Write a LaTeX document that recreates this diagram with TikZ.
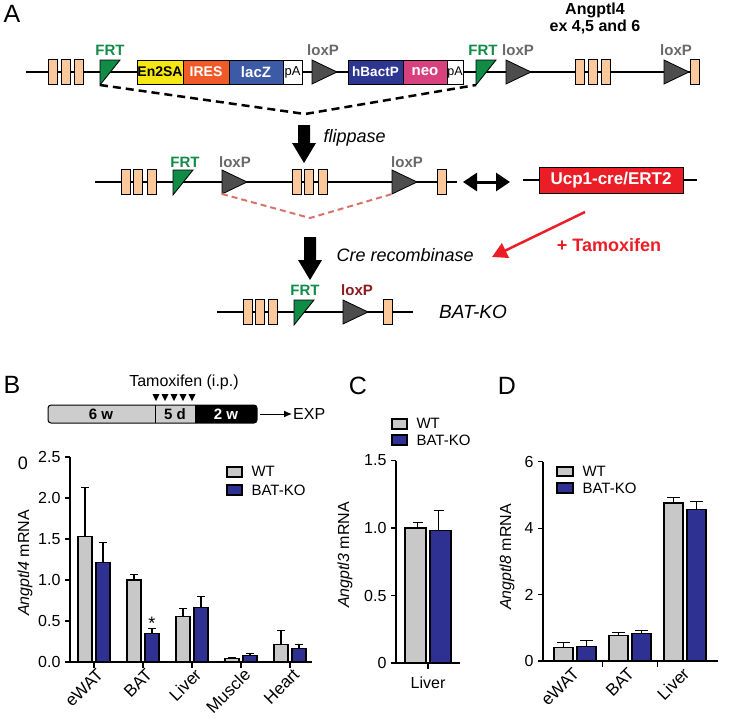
\documentclass[tikz,border=0pt]{standalone}
\usepackage{fontspec}
\setmainfont{Liberation Sans}
\usetikzlibrary{arrows.meta}
\tikzset{>=latex}
\tikzset{every text node part/.style={align=center}}

\definecolor{exoncol}{RGB}{250,200,155}
\definecolor{frtgreen}{RGB}{16,140,70}
\definecolor{loxgray}{RGB}{77,77,77}
\definecolor{loxtext}{RGB}{105,105,105}
\definecolor{loxred}{RGB}{140,25,30}
\definecolor{ensacol}{RGB}{245,230,20}
\definecolor{irescol}{RGB}{240,90,40}
\definecolor{laczcol}{RGB}{60,90,165}
\definecolor{hbactcol}{RGB}{45,55,145}
\definecolor{neocol}{RGB}{215,65,125}
\definecolor{ucpred}{RGB}{235,30,40}
\definecolor{credash}{RGB}{215,115,105}
\definecolor{wtgray}{RGB}{200,200,200}
\definecolor{koblue}{RGB}{46,49,146}
\definecolor{tlgray}{RGB}{205,205,205}

\newcommand{\fsz}[1]{\fontsize{#1}{#1}\selectfont}

\tikzset{
	dna/.style={line width=2pt},
	exonbox/.style={draw, line width=0.8pt, fill=exoncol},
	frtbox/.style={draw, line width=0.8pt, fill=frtgreen},
	loxbox/.style={draw, line width=0.8pt, fill=loxgray},
	cassette/.style={draw, line width=0.8pt, inner sep=0pt, minimum height=24pt, font=\fsz{14}\bfseries, text=white},
	frtlabel/.style={font=\fsz{15}\bfseries, text=frtgreen},
	loxlabel/.style={font=\fsz{15}\bfseries, text=loxtext},
	steplabel/.style={font=\fsz{18}\itshape},
	panel/.style={font=\fsz{25}},
	axis/.style={line width=1.3pt},
	wtbar/.style={draw, line width=1.1pt, fill=wtgray},
	kobar/.style={draw, line width=1.1pt, fill=koblue},
	errbar/.style={line width=1.1pt},
	ticklab/.style={font=\fsz{16}, anchor=east},
	xlab/.style={font=\fsz{17}, rotate=45, anchor=east, inner sep=1pt},
	legbox/.style={draw, line width=1.1pt},
	legtext/.style={font=\fsz{15}, anchor=west}
}

% small construct parts
\newcommand{\exon}[2]{\draw[exonbox] (#1,#2-12.5) rectangle ++(9,25);}
\newcommand{\frt}[3]{\draw[frtbox] (#2,#3-12) coordinate (#1) -- ++(20,0) -- (#2,#3+13) coordinate (#1b) -- cycle;}
\newcommand{\loxp}[3]{\draw[loxbox] (#2,#3-12) coordinate (#1) -- (#2+25,#3) -- (#2,#3+12) coordinate (#1b) -- cycle;}
\newcommand{\bigarrow}[3]{\fill (#1-6,#2) -- (#1+6,#2) -- (#1+6,#3-20) -- (#1+12,#3-20) -- (#1,#3) -- (#1-12,#3-20) -- (#1-6,#3-20) -- cycle;}

\begin{document}
\begin{tikzpicture}[x=1pt, y=-1pt]
	\useasboundingbox (0,0) rectangle (731,718);
	
	% Panel letters
	\node[panel] (labA) at (12,14) {A};
	\node[panel] (labB) at (12,385) {B};
	\node[panel] (labC) at (358,386) {C};
	\node[panel] (labD) at (507,386) {D};
	
	% Targeted allele
	\draw[dna] (26,72) -- (695,72);
	\exon{48}{72} \exon{61}{72} \exon{74}{72}
	\frt{frtA}{100}{72}
	\node[frtlabel] (frtlabA) at (110,50) {FRT};
	\node[cassette, fill=ensacol, text=black, minimum width=46pt] (ensa) at (160,72) {En2SA};
	\node[cassette, fill=irescol, minimum width=46pt] (ires) at (206,72) {IRES};
	\node[cassette, fill=laczcol, minimum width=54pt, font=\fsz{15}\bfseries] (lacz) at (256,72) {lacZ};
	\node[cassette, fill=white, text=black, minimum width=19pt, font=\fsz{13}] (pa1) at (292.5,72) {pA};
	\loxp{loxA}{312}{72}
	\node[loxlabel] (loxlabA) at (323,50) {loxP};
	\node[cassette, fill=hbactcol, minimum width=55pt, font=\fsz{13.5}\bfseries] (hbact) at (375.5,72) {hBactP};
	\node[cassette, fill=neocol, minimum width=44pt, font=\fsz{15}\bfseries] (neo) at (425,72) {neo};
	\node[cassette, fill=white, text=black, minimum width=16pt, font=\fsz{12.5}] (pa2) at (455,72) {pA};
	\frt{frtB}{476}{72}
	\node[frtlabel] (frtlabB) at (483,50) {FRT};
	\loxp{loxB}{506}{72}
	\node[loxlabel] (loxlabB) at (518,50) {loxP};
	\exon{575}{72} \exon{588}{72} \exon{601}{72}
	\loxp{loxC}{664}{72}
	\node[loxlabel] (loxlabC) at (676,50) {loxP};
	\exon{690}{72}
	\node[font=\fsz{16}\bfseries] (exlab) at (595,18) {Angptl4\\[1pt]ex 4,5 and 6};
	
	% Flippase step
	\draw[line width=2.5pt, dash pattern=on 8pt off 5pt] (frtAb) -- (305,114) -- (frtBb);
	\bigarrow{304}{125}{163}
	\node[steplabel, anchor=west] (flip) at (320,138) {flippase};
	
	% Floxed allele
	\draw[dna] (95,182) -- (457,182);
	\exon{121}{182} \exon{133}{182} \exon{147}{182}
	\frt{frtC}{173}{182}
	\node[frtlabel] (frtlabC) at (185,162) {FRT};
	\loxp{loxD}{222}{182}
	\node[loxlabel] (loxlabD) at (235,162) {loxP};
	\exon{292}{182} \exon{304}{182} \exon{318}{182}
	\loxp{loxE}{392}{182}
	\node[loxlabel] (loxlabE) at (407,162) {loxP};
	\exon{437}{182}
	\draw[line width=2pt, credash, dash pattern=on 6pt off 4pt] (loxDb) -- (310,218) -- (loxEb);
	
	% Cre driver
	\coordinate (dblL) at (463,182);
	\coordinate (dblR) at (510,182);
	\draw[line width=3pt, {Triangle[length=14pt,width=18pt]}-{Triangle[length=14pt,width=18pt]}] (dblL) -- (dblR);
	\draw[dna] (523,180) -- (697,180);
	\node[draw, line width=0.8pt, fill=ucpred, minimum width=144pt, minimum height=26pt, inner sep=0pt, font=\fsz{17}\bfseries, text=white] (ucp) at (611,180) {Ucp1-cre/ERT2};
	\coordinate (tamA) at (585,212);
	\coordinate (tamB) at (492,257);
	\draw[line width=2.5pt, ucpred, -{Triangle[length=15pt,width=16pt]}] (tamA) -- (tamB);
	\node[font=\fsz{18}\bfseries, text=ucpred] (tam) at (609,245) {+ Tamoxifen};
	
	% Cre step
	\bigarrow{310}{237}{280}
	\node[steplabel, anchor=west] (cre) at (333,255) {Cre recombinase};
	
	% Deleted allele
	\draw[dna] (217,312) -- (413,312);
	\exon{243}{312} \exon{255}{312} \exon{268}{312}
	\frt{frtD}{294}{312}
	\node[frtlabel] (frtlabD) at (305,290) {FRT};
	\loxp{loxF}{343}{312}
	\node[loxlabel, text=loxred] (loxlabF) at (357,290) {loxP};
	\exon{383}{312}
	\node[font=\fsz{19}\itshape] (batko) at (473,312) {BAT-KO};
	
	% Timeline
	\node[font=\fsz{16}] (tamip) at (184,382) {Tamoxifen (i.p.)};
	\foreach \tx in {156,165,...,192}
		\fill (\tx-3.5,394) -- (\tx+3.5,394) -- (\tx,401) -- cycle;
	\begin{scope}
		\clip[rounded corners=3pt] (48,405) rectangle (257,423);
		\fill[tlgray] (48,405) rectangle (195,423);
		\fill[black] (195,405) rectangle (257,423);
	\end{scope}
	\draw[line width=1pt] (155,405) -- (155,423);
	\draw[line width=1pt, rounded corners=3pt] (48,405) rectangle (257,423);
	\node[font=\fsz{15}\bfseries] (sixw) at (101,414) {6 w};
	\node[font=\fsz{15}\bfseries] (fived) at (175,414) {5 d};
	\node[font=\fsz{15}\bfseries, text=white] (twow) at (226,414) {2 w};
	\coordinate (tlend) at (260,414);
	\node[font=\fsz{16}, anchor=west, inner sep=1pt] (exp) at (292,414) {EXP};
	\draw[line width=1pt, -{Latex[length=8pt,width=7pt]}] (tlend) -- (exp.west);
	
	% Panel B chart
	\node[font=\fsz{18}] (zero) at (23,463) {0};
	\node[font=\fsz{16}, rotate=90] (ylabB) at (25,563) {\textit{Angptl4} mRNA};
	\begin{scope}[shift={(70,662)}, y=82pt]
		\foreach \gx/\w/\we/\k/\ke/\lab in {24/1.53/2.13/1.21/1.46/eWAT, 73/1.00/1.07/0.35/0.41/BAT, 122/0.55/0.65/0.66/0.80/Liver, 171/0.04/0.05/0.08/0.10/Muscle, 220/0.21/0.38/0.16/0.21/Heart}
		{
			\draw[errbar] (\gx-9,\w) -- (\gx-9,\we) (\gx-13,\we) -- (\gx-5,\we);
			\draw[wtbar] (\gx-16,0) rectangle (\gx-2,\w);
			\draw[errbar] (\gx+9,\k) -- (\gx+9,\ke) (\gx+5,\ke) -- (\gx+13,\ke);
			\draw[kobar] (\gx+2,0) rectangle (\gx+16,\k);
			\draw[axis] (\gx,0) -- ++(0pt,-6pt);
			\node[xlab] at ([xshift=7pt, yshift=-9pt]\gx,0) {\lab};
		}
		\foreach \v/\l in {0/0.0, 0.5/0.5, 1/1.0, 1.5/1.5, 2/2.0, 2.5/2.5}
		{
			\draw[axis] (-5,\v) -- (0,\v);
			\node[ticklab] at (-6,\v) {\l};
		}
		\draw[axis] (0,2.5) -- (0,0) -- (242,0);
		\node[font=\fsz{18}] (star) at (82,0.47) {*};
	\end{scope}
	\draw[legbox, fill=wtgray] (227,467) rectangle (242,477);
	\draw[legbox, fill=koblue] (227,485) rectangle (242,495);
	\node[legtext] (legwtB) at (248,471) {WT};
	\node[legtext] (legkoB) at (248,490) {BAT-KO};
	
	% Panel C chart
	\node[font=\fsz{16}, rotate=90] (ylabC) at (345,555) {\textit{Angptl3} mRNA};
	\begin{scope}[shift={(396,663)}, y=135pt]
		\draw[errbar] (21.5,1.00) -- (21.5,1.04) (16.5,1.04) -- (26.5,1.04);
		\draw[wtbar] (9,0) rectangle (30,1.00);
		\draw[errbar] (42.5,0.98) -- (42.5,1.13) (37.5,1.13) -- (47.5,1.13);
		\draw[kobar] (34,0) rectangle (55,0.98);
		\draw[axis] (32,0) -- ++(0pt,-6pt);
		\foreach \v/\l in {0/0, 0.5/0.5, 1/1.0, 1.5/1.5}
		{
			\draw[axis] (-5,\v) -- (0,\v);
			\node[ticklab] at (-6,\v) {\l};
		}
		\draw[axis] (0,1.5) -- (0,0) -- (64,0);
	\end{scope}
	\node[font=\fsz{16}] (liverC) at (428,683) {Liver};
	\draw[legbox, fill=wtgray] (392,419) rectangle (407,429);
	\draw[legbox, fill=koblue] (392,435) rectangle (407,445);
	\node[legtext] (legwtC) at (413,423) {WT};
	\node[legtext] (legkoC) at (413,440) {BAT-KO};
	
	% Panel D chart
	\node[font=\fsz{16}, rotate=90] (ylabD) at (507,557) {\textit{Angptl8} mRNA};
	\begin{scope}[shift={(543,661)}, y=33.2pt]
		\foreach \gx/\w/\we/\k/\ke/\lab in {32/0.40/0.55/0.45/0.62/eWAT, 87/0.78/0.87/0.83/0.92/BAT, 142/4.76/4.93/4.57/4.80/Liver}
		{
			\draw[errbar] (\gx-11.5,\w) -- (\gx-11.5,\we) (\gx-18,\we) -- (\gx-5,\we);
			\draw[wtbar] (\gx-21,0) rectangle (\gx-2,\w);
			\draw[errbar] (\gx+11.5,\k) -- (\gx+11.5,\ke) (\gx+5,\ke) -- (\gx+18,\ke);
			\draw[kobar] (\gx+2,0) rectangle (\gx+21,\k);
			\node[xlab] at ([xshift=2pt, yshift=-9pt]\gx,0) {\lab};
		}
		\foreach \tx in {59.5,114.5}
			\draw[axis] (\tx,0) -- ++(0pt,-6pt);
		\foreach \v in {0,2,4,6}
		{
			\draw[axis] (-5,\v) -- (0,\v);
			\node[ticklab] at (-6,\v) {\v};
		}
		\draw[axis] (0,6) -- (0,0) -- (175,0);
	\end{scope}
	\draw[legbox, fill=wtgray] (557,467) rectangle (573,476);
	\draw[legbox, fill=koblue] (557,483) rectangle (573,493);
	\node[legtext] (legwtD) at (579,471) {WT};
	\node[legtext] (legkoD) at (579,488) {BAT-KO};
\end{tikzpicture}
\end{document}
